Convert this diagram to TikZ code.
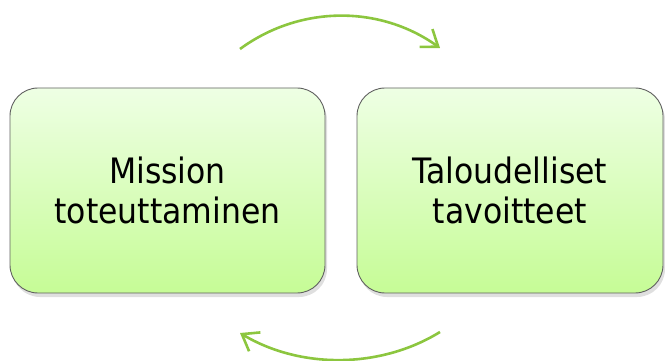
\documentclass[tikz,border=0pt]{standalone}
\usepackage{fontspec}
\setmainfont{DejaVu Sans Condensed}
\usetikzlibrary{arrows.meta,shadows}
\definecolor{boxtop}{HTML}{EEFFE4}
\definecolor{boxbottom}{HTML}{C6FC96}
\definecolor{arrowgreen}{HTML}{8CC63F}
\definecolor{boxline}{HTML}{606060}

\begin{document}
\begin{tikzpicture}[x=1pt,y=-1pt]
  \tikzset{
    GoalBox/.style={draw=boxline,line width=0.9pt,rounded corners=28pt,
      top color=boxtop,bottom color=boxbottom,minimum height=205pt,
      align=center,font=\fontsize{35}{40}\selectfont,
      drop shadow={shadow xshift=2pt,shadow yshift=-4pt,opacity=0.25}},
    CycleArrow/.style={arrowgreen,line width=2.6pt,
      -{Straight Barb[length=15pt,width=22pt,line width=2.6pt]}}
  }
  \useasboundingbox (0,0) rectangle (665,361);
  \node[GoalBox,minimum width=315pt] (mission) at (167.5,190.5) {Mission\\toteuttaminen};
  \node[GoalBox,minimum width=306pt] (talous) at (510,190.5) {Taloudelliset\\tavoitteet};
  \coordinate (topA) at (240,49);
  \coordinate (topB) at (440,48);
  \coordinate (botA) at (440,332);
  \coordinate (botB) at (240,333);
  \draw[CycleArrow] (topA) .. controls (300,5) and (380,5) .. (topB);
  \draw[CycleArrow] (botA) .. controls (380,369) and (300,369) .. (botB);
\end{tikzpicture}
\end{document}
